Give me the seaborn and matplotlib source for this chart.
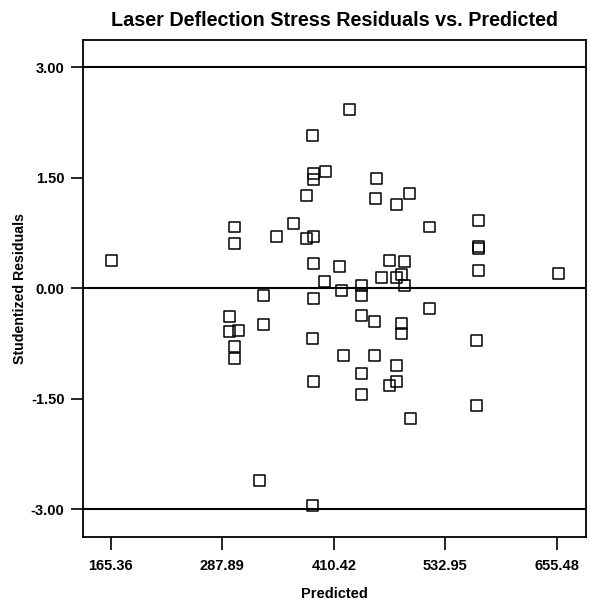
import matplotlib
matplotlib.use("Agg")
import matplotlib.pyplot as plt
import seaborn as sns
import pandas as pd

predicted = [
    166.5, 387.1, 387.8, 388.5, 401.7, 380.5, 428.0, 457.3, 456.6, 479.3,
    493.9, 515.9, 568.9, 568.9, 568.9, 568.9, 656.7,
    347.6, 365.8, 380.5, 387.8, 301.8, 301.8, 387.8, 400.6,
    417.0, 472.0, 488.4, 462.8, 479.3, 484.8, 488.4, 418.9, 440.9, 440.9,
    387.8, 515.9, 440.9, 455.5, 484.8, 332.9,
    295.6, 295.6, 305.4, 301.8, 301.8, 332.9, 387.1, 484.8, 567.1,
    420.7, 455.5, 479.3, 440.9, 387.8, 472.0, 479.3, 440.9, 567.1, 494.9,
    328.5, 387.1,
]
residuals = [
    0.37, 2.07, 1.56, 1.47, 1.58, 1.26, 2.43, 1.49, 1.22, 1.13,
    1.29, 0.83, 0.92, 0.54, 0.56, 0.24, 0.20,
    0.70, 0.88, 0.675, 0.70, 0.83, 0.61, 0.34, 0.09,
    0.29, 0.38, 0.36, 0.15, 0.15, 0.18, 0.04, -0.03, 0.04, -0.10,
    -0.14, -0.28, -0.37, -0.45, -0.48, -0.10,
    -0.39, -0.59, -0.57, -0.79, -0.96, -0.50, -0.68, -0.62, -0.71,
    -0.91, -0.92, -1.05, -1.16, -1.27, -1.32, -1.27, -1.45, -1.59, -1.77,
    -2.61, -2.95,
]
x_ticks = [165.36, 287.89, 410.42, 532.95, 655.48]
y_ticks = [3.00, 1.50, 0.00, -1.50, -3.00]
ref_lines = [3.0, 0.0, -3.0]

df = pd.DataFrame({"Predicted": predicted, "Studentized Residuals": residuals})

sns.set_style("white")
plt.rcParams["font.family"] = ["Liberation Sans", "DejaVu Sans"]
plt.rcParams["text.color"] = "black"
plt.rcParams["axes.labelcolor"] = "black"

fig = plt.figure(figsize=(5.9, 6.05), dpi=100)
ax = fig.add_axes([0.140, 0.1124, 0.854, 0.8215])

for r in ref_lines:
    ax.axhline(r, color="black", lw=1.5, zorder=1)

sns.scatterplot(data=df, x="Predicted", y="Studentized Residuals", ax=ax,
                marker="s", s=62, facecolor="none", edgecolor="black",
                linewidth=1.1, zorder=3)

ax.set_xlim(134.6, 687.9)
ax.set_ylim(-3.38, 3.37)
ax.set_xticks(x_ticks)
ax.set_xticklabels([f"{v:.2f}" for v in x_ticks])
ax.set_yticks(y_ticks)
ax.set_yticklabels([f"{v:.2f}" for v in y_ticks])

for s in ax.spines.values():
    s.set_color("black")
    s.set_linewidth(1.3)

ax.tick_params(axis="both", direction="out", length=9, width=1.2,
               colors="black", labelcolor="black", labelsize=10.5,
               bottom=True, left=True, top=False, right=False)
ax.tick_params(axis="x", pad=7)
ax.tick_params(axis="y", pad=4)
for lab in ax.get_xticklabels() + ax.get_yticklabels():
    lab.set_fontweight("bold")

ax.set_xlabel("Predicted", fontsize=10.5, fontweight="bold", labelpad=10,
              color="black")
ax.set_ylabel("Studentized Residuals", fontsize=10.2, fontweight="bold",
              labelpad=3, color="black")
ax.set_title("Laser Deflection Stress Residuals vs. Predicted",
             fontsize=14.2, fontweight="bold", pad=10, color="black")

fig.savefig("out.png", dpi=100)
